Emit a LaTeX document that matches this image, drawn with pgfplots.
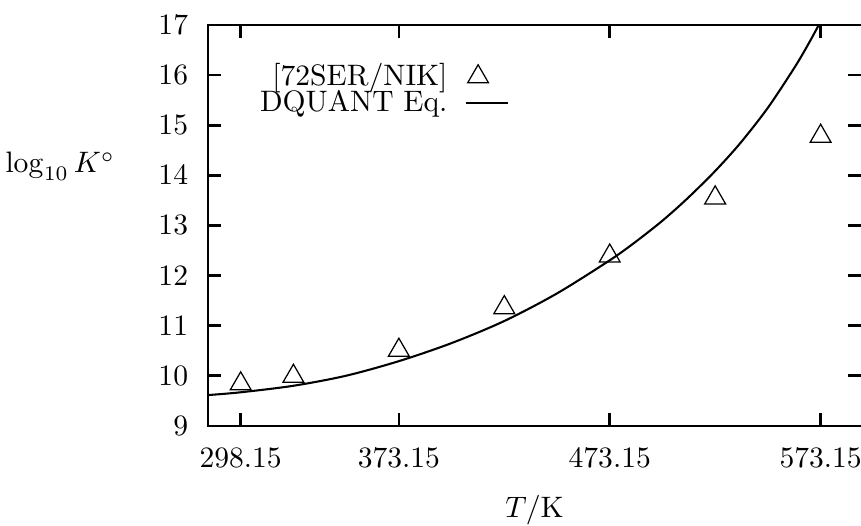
\documentclass[border=0pt]{standalone}
\usepackage{pgfplots}
\pgfplotsset{compat=1.18}
\usetikzlibrary{calc}
\pgfplotsset{
  shortline legend/.style={legend image code/.code={\draw[##1] (0pt,0pt) -- (14pt,0pt);}},
  shortmark legend/.style={legend image code/.code={\draw[mark repeat=2,mark phase=2,##1] plot coordinates {(0pt,0pt)(4pt,0pt)(14pt,0pt)};}},
}
\pgfplotstableread{
T logK
298.15 9.84
323.15 9.99
373.15 10.51
423.15 11.36
473.15 12.39
523.15 13.55
573.15 14.78
}\expdata
\pgfplotstableread{
T logK
282.65 9.615
298 9.67
323 9.80
348 10.00
373 10.29
398 10.65
423 11.09
448 11.64
473 12.30
485 12.66
498 13.09
510 13.54
523 14.08
535 14.64
548 15.34
560 16.10
566 16.52
572 16.98
578 17.48
}\dquant
\begin{document}
\begin{tikzpicture}
\begin{axis}[
 scale only axis, width=220.7pt, height=135.5pt,
 xmin=282.65, xmax=592.3, ymin=9, ymax=17,
 xtick={298.15,373.15,473.15,573.15},
 xticklabels={298.15,373.15,473.15,573.15},
 ytick={9,10,11,12,13,14,15,16,17},
 tick align=inside, major tick length=4.4pt,
 tick style={line width=0.9pt, black},
 separate axis lines,
 x axis line style={line width=0.9pt},
 y axis line style={draw=none},
 extra description/.code={\draw[line width=0.9pt, line cap=rect] (0,0)--(0,1);},
 xticklabel style={yshift=-3.8pt},
 yticklabel style={xshift=-3.2pt},
 xlabel={$T/\mathrm{K}$},
 xlabel style={at={(0.5,-0.229)}, anchor=base},
 ylabel={$\log_{10} K^\circ$},
 ylabel style={rotate=-90, at={(-0.127,0.631)}, anchor=base east},
 legend style={draw=none, fill=none, at={(0.475,0.935)}, anchor=north east, row sep=-4pt, column sep=4pt},
 legend cell align=right, legend plot pos=right,
]
\addplot[only marks, mark=triangle, mark size=4.06pt, mark options={line width=0.42pt, black, fill=none}, shortmark legend] table[x=T, y=logK] {\expdata};
\addlegendentry{[72SER/NIK]}
\addplot[black, line width=0.7pt, smooth, no marks, shortline legend] table[x=T, y=logK] {\dquant};
\addlegendentry{DQUANT Eq.}
\end{axis}
\pgfresetboundingbox
\path ($(current axis.south west)+(-70.3pt,-33.8pt)$) rectangle ($(current axis.north east)+(0pt,8.45pt)$);
\end{tikzpicture}
\end{document}
